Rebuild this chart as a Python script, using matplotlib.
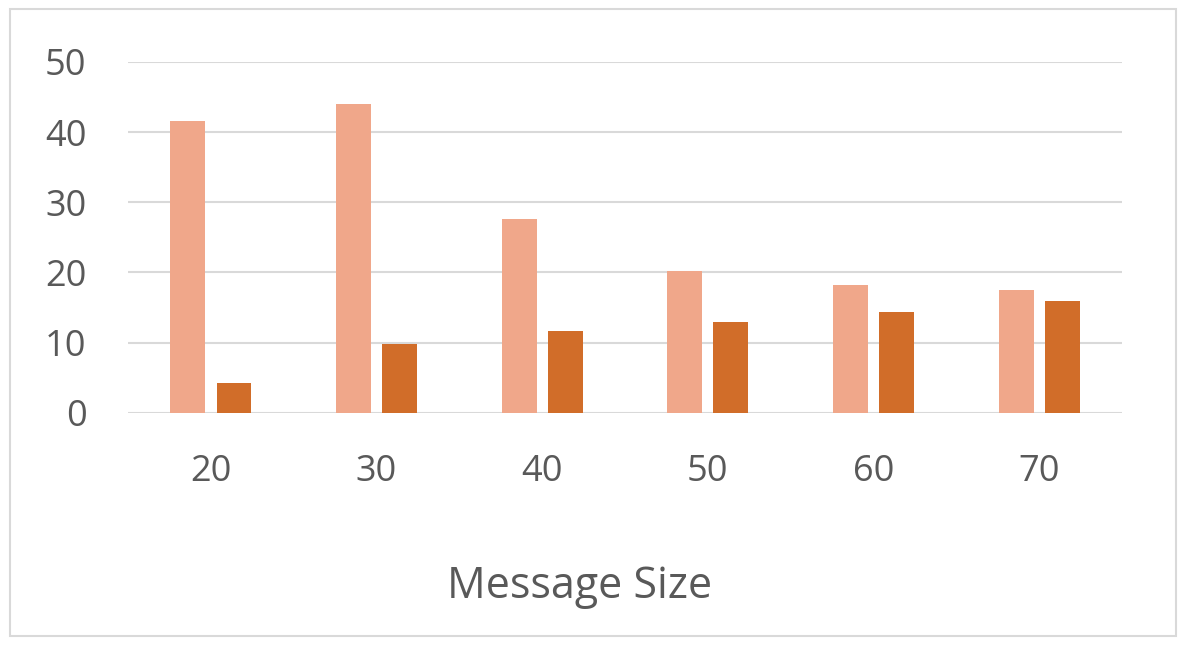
import matplotlib
matplotlib.use("Agg")
import matplotlib.pyplot as plt
import numpy as np
from matplotlib.patches import Rectangle

# data
message_sizes = ["20", "30", "40", "50", "60", "70"]
series_light = [41.6, 44.0, 27.6, 20.2, 18.2, 17.5]
series_dark = [4.3, 9.8, 11.7, 12.9, 14.4, 16.0]
y_ticks = [0, 10, 20, 30, 40, 50]

light_color = "#F0A78A"
dark_color = "#D16D29"
text_color = "#595959"
grid_color = "#D9D9D9"

plt.rcParams["font.family"] = ["Open Sans", "DejaVu Sans"]

fig = plt.figure(figsize=(11.86, 6.45), dpi=100)
ax = fig.add_axes([0.108, 0.360, 0.838, 0.544])

x = np.arange(len(message_sizes))
width = 0.21
offset = 0.139
ax.bar(x - offset, series_light, width, color=light_color, zorder=3)
ax.bar(x + offset, series_dark, width, color=dark_color, zorder=3)

ax.set_xlim(-0.5, len(message_sizes) - 0.5)
ax.set_ylim(0, 50)
ax.set_yticks(y_ticks)
ax.set_xticks(x)
ax.set_xticklabels(message_sizes)

ax.yaxis.grid(True, color=grid_color, linewidth=1.5, zorder=0)
ax.set_axisbelow(True)
for s in ax.spines.values():
    s.set_visible(False)
ax.tick_params(axis="both", length=0, labelsize=26, labelcolor=text_color)
ax.tick_params(axis="y", pad=30)
ax.tick_params(axis="x", pad=30)

# axis title sits a bit left of the plot centre in the reference
fig.text(580 / 1186, 1 - 587 / 645, "Message Size", fontsize=31,
         color=text_color, ha="center", va="center")

# chart area border
fig.patches.append(Rectangle((10 / 1186, 9 / 645), 1166 / 1186, 627 / 645,
                             transform=fig.transFigure, fill=False,
                             edgecolor=grid_color, linewidth=1.5))

fig.savefig("out.png", dpi=100)
